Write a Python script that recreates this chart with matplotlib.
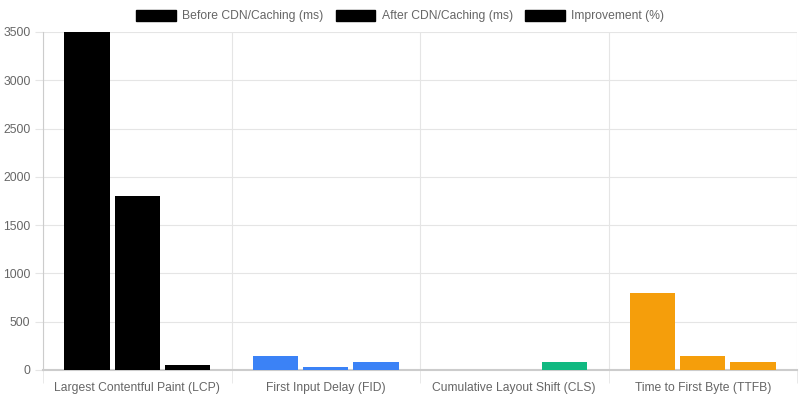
import numpy as np
import matplotlib.pyplot as plt
from matplotlib.patches import Patch

plt.rcParams['font.family'] = ['Liberation Sans', 'DejaVu Sans']

# Datos
metrics = ['Largest Contentful Paint (LCP)', 'First Input Delay (FID)',
           'Cumulative Layout Shift (CLS)', 'Time to First Byte (TTFB)']
before = [3500, 150, 0.25, 800]
after = [1800, 30, 0.05, 150]
improvement = [48.6, 80, 80, 81.25]
series_names = ['Before CDN/Caching (ms)', 'After CDN/Caching (ms)', 'Improvement (%)']
colors = ['#000000', '#3b82f6', '#10b981', '#f59e0b']

fig = plt.figure(figsize=(8, 4), dpi=100)
ax = fig.add_axes([43/800, 30/400, 754/800, 338/400])

x = np.arange(len(metrics))
slot = 0.8 / 3
width = slot * 0.9
for i, vals in enumerate([before, after, improvement]):
    ax.bar(x + (i - 1) * slot, vals, width, color=colors, zorder=3)

ax.set_xlim(-0.5, len(metrics) - 0.5)
ax.set_ylim(0, 3500)
ax.set_yticks(np.arange(0, 3501, 500))
ax.set_xticks(x)
ax.set_xticklabels(metrics)
ax.set_xticks(np.arange(-0.5, len(metrics)), minor=True)

grid_c = '#e5e5e5'
ax.grid(True, axis='y', color=grid_c, lw=0.8, zorder=0)
ax.grid(True, axis='x', which='minor', color=grid_c, lw=0.8, zorder=0)
ax.tick_params(axis='x', which='major', length=0, pad=9, labelsize=8.7, labelcolor='#666666')
ax.tick_params(axis='x', which='minor', length=9, color=grid_c)
ax.tick_params(axis='y', length=6, color=grid_c, labelsize=8.7, labelcolor='#666666', pad=3)

for s in ['top', 'right']:
    ax.spines[s].set_visible(False)
ax.spines['left'].set_color('#cccccc')
ax.spines['bottom'].set_color('#cccccc')
ax.spines['bottom'].set_linewidth(1.5)

handles = [Patch(facecolor='#000000', edgecolor='#000000') for _ in series_names]
fig.legend(handles, series_names, loc='center', bbox_to_anchor=(0.5, 1 - 16/400),
           ncol=3, frameon=False, fontsize=8.7, labelcolor='#666666',
           handlelength=3.3, handleheight=1.0, handletextpad=0.5, columnspacing=1.0)

fig.savefig('out.png')
